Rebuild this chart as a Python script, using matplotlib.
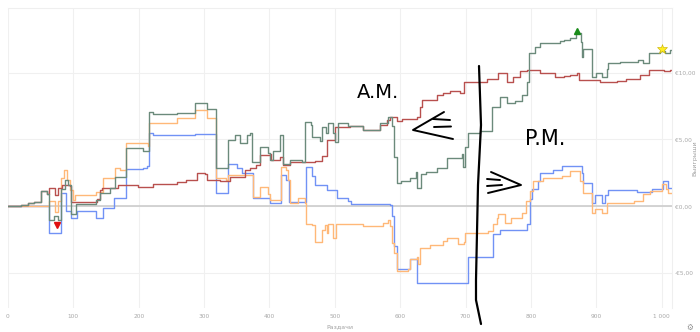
import matplotlib
matplotlib.use("Agg")
import matplotlib.pyplot as plt
from matplotlib.lines import Line2D

# cumulative winnings per hand (step points)
hands_end = 1015

green_x = [0, 10, 20, 30, 40, 51, 59, 63, 70, 76, 81, 87, 92, 96, 104, 134, 140, 156, 164, 180,
           207, 216, 222, 258, 286, 304, 318, 337, 347, 355, 365, 370, 374, 385, 398, 401, 406, 416, 421, 431,
           449, 454, 463, 465, 477, 480, 487, 490, 497, 500, 505, 520, 543, 569, 582, 587, 590, 595, 601, 615,
           624, 626, 631, 640, 656, 671, 694, 696, 699, 704, 722, 740, 753, 763, 776, 786, 794, 797, 806, 814,
           844, 850, 860, 869, 876, 878, 880, 893, 900, 908, 916, 918, 936, 964, 972, 980, 997, 1005, 1013]
green_y = [0, 0.05, 0.1, 0.25, 0.3, 1.14, 0.92, -1.0, -0.7, -1.0, 1.3, 2.0, 1.6, -0.55, 0.2, 0.47, 1.0, 1.37, 2.2, 4.34,
           4.1, 7.07, 6.9, 7.0, 7.7, 7.3, 2.84, 4.96, 5.3, 4.7, 5.3, 5.5, 3.34, 4.46, 4.0, 3.46, 4.1, 5.33, 3.2, 3.46,
           3.3, 6.33, 6.1, 5.2, 4.9, 5.9, 5.5, 6.2, 5.5, 4.8, 6.2, 6.0, 5.7, 6.2, 6.65, 6.0, 3.7, 1.72, 1.9, 2.1,
           2.6, 1.35, 2.4, 2.6, 2.84, 3.6, 3.9, 2.96, 4.46, 5.46, 5.6, 7.45, 8.2, 7.7, 7.9, 8.32, 9.3, 11.44, 11.94, 12.2,
           12.35, 12.4, 12.6, 12.94, 12.3, 11.2, 11.8, 9.7, 10.0, 9.7, 10.3, 10.7, 10.8, 10.94, 10.7, 11.44, 11.6, 11.5, 11.7]

red_x = [0, 10, 20, 30, 40, 51, 59, 63, 72, 77, 82, 95, 97, 136, 141, 144, 156, 169, 199, 222,
         258, 273, 289, 301, 304, 324, 340, 355, 362, 370, 380, 386, 401, 403, 416, 421, 431, 470, 480, 488,
         500, 523, 543, 569, 579, 584, 595, 602, 625, 630, 633, 656, 666, 676, 691, 697, 732, 750, 763, 773,
         783, 794, 814, 837, 850, 860, 870, 873, 906, 931, 946, 967, 980, 1003, 1013]
red_y = [0, 0.05, 0.1, 0.25, 0.3, 1.14, 0.92, 1.35, 0.85, 1.35, 1.6, 1.55, 0.35, 0.55, 1.2, 1.4, 1.35, 1.6, 1.48, 1.65,
         1.8, 1.97, 2.47, 2.4, 1.97, 1.9, 2.2, 2.2, 2.7, 2.9, 3.1, 3.84, 3.9, 3.5, 3.7, 3.1, 3.34, 3.4, 3.8, 4.96,
         5.96, 6.0, 5.7, 6.1, 6.45, 6.7, 6.4, 6.55, 6.7, 7.45, 7.95, 8.3, 8.45, 8.6, 8.5, 9.32, 9.55, 10.0, 9.3, 9.7,
         10.1, 10.2, 9.95, 9.7, 9.75, 9.85, 10.0, 9.45, 9.32, 9.4, 9.5, 9.8, 10.2, 10.1, 10.2]

blue_x = [0, 63, 81, 89, 97, 105, 134, 146, 162, 180.5, 207, 213, 216, 222, 286, 318, 336, 350, 358, 375,
          401, 418, 426, 430, 456, 465, 470, 488, 503, 520, 525, 584, 587, 590, 595, 615, 625, 703, 742, 752,
          794, 799, 801, 811, 814, 834, 847, 878, 880, 893, 898, 908, 913, 918, 962, 985, 1002, 1009]
blue_y = [0, -1.97, 1.0, -0.35, -0.85, -0.35, -0.85, -0.1, 0.6, 2.8, 2.9, 3.0, 5.46, 5.3, 5.4, 0.97, 3.2, 2.9, 2.47, 0.6,
          0.22, 2.34, 1.97, 0.35, 2.96, 2.3, 1.6, 1.2, 0.6, 0.4, 0.15, 0.1, -0.73, -2.97, -4.7, -3.96, -5.7, -3.77, -2.1, -1.77,
          -1.35, 0.52, 1.27, 1.9, 2.5, 2.75, 3.0, 2.5, 1.77, 0.27, 0.84, 0.27, 0.84, 1.22, 1.1, 1.3, 1.9, 1.4]

orange_x = [0, 63, 72, 77, 81, 85, 90, 95, 100, 103, 135, 146, 164, 171, 180.5, 207, 214, 216, 258, 286,
            304, 318, 334, 337, 375, 385, 398, 401, 418, 426, 429, 431, 444, 454, 456, 465, 470, 477, 480, 485,
            488, 490, 497, 502, 543, 566, 574, 582, 584, 587, 590, 595, 612, 615, 625, 627, 630, 646, 666, 671,
            686, 689, 697, 699, 727, 735, 742, 748, 750, 758, 760, 770, 786, 793, 798, 803, 819, 847, 860, 870,
            875, 880, 893, 898, 908, 916, 957, 972, 982, 1000, 1006, 1010]
orange_y = [0, 0.4, -0.4, 0.4, 2.1, 2.7, 2.0, 1.2, 0.47, 0.85, 1.1, 2.1, 2.84, 2.7, 4.7, 4.7, 4.5, 6.2, 6.6, 7.2,
            6.6, 2.1, 1.97, 2.34, 0.72, 1.47, 0.95, 0.47, 2.96, 2.7, 1.97, 0.22, 0.6, 0.22, -1.3, -1.4, -2.65, -2.65, -1.8, -1.4,
            -2.0, -1.3, -2.35, -1.3, -1.5, -1.5, -1.22, -1.02, -1.5, -2.77, -3.5, -4.8, -4.7, -3.96, -3.8, -4.34, -3.1, -2.9, -2.6, -2.4,
            -2.4, -2.84, -2.7, -1.97, -1.97, -1.85, -1.3, -0.9, -0.6, -0.6, -1.22, -0.85, -0.47, 0.4, 1.14, 1.9, 2.14, 2.3, 2.64, 2.64,
            1.9, 1.02, -0.47, -0.22, -0.5, 0.27, 0.4, 0.9, 1.14, 1.64, 1.3, 1.0]

# special hands
low_point = (75, -1.4)
high_point = (870, 13.1)
star_point = (1000, 11.8)

x_ticks = [0, 100, 200, 300, 400, 500, 600, 700, 800, 900, 1000]
x_tick_labels = ["0", "100", "200", "300", "400", "500", "600", "700", "800", "900", "1 000"]
y_ticks = [-5, 0, 5, 10]
y_tick_labels = ["-€5,00", "€0,00", "€5,00", "€10,00"]

W, H = 700, 332
fig = plt.figure(figsize=(W / 100, H / 100), dpi=100)
ax = fig.add_axes([8 / W, 1 - 307.7 / H, 664 / W, 299.7 / H])

ax.set_xlim(0, 1015.7)
ax.set_ylim(-7.58, 14.83)

ax.set_xticks(x_ticks)
ax.set_xticklabels(x_tick_labels)
ax.set_yticks(y_ticks)
ax.set_yticklabels(y_tick_labels)
ax.yaxis.tick_right()
ax.tick_params(length=0, labelsize=4.2, labelcolor="#a8a8a8")
ax.tick_params(axis="y", pad=2.2)
ax.tick_params(axis="x", pad=4.5)
ax.grid(True, color="#f0f0f0", lw=0.8)
ax.set_axisbelow(True)
for side in ["left", "bottom"]:
    ax.spines[side].set_visible(False)
for side in ["top", "right"]:
    ax.spines[side].set_color("#efefef")
    ax.spines[side].set_linewidth(0.8)

ax.axhline(0, color="#cccccc", lw=1.2, zorder=1)


def steps(xs, ys, color):
    ax.plot(list(xs) + [hands_end], list(ys) + [ys[-1]], drawstyle="steps-post",
            color=color, lw=1.0, zorder=2)


steps(blue_x, blue_y, "#7192f5")
steps(orange_x, orange_y, "#ffb878")
steps(red_x, red_y, "#b8504e")
steps(green_x, green_y, "#6b8a7b")

ax.plot(*low_point, marker="v", color="#e01010", ms=5, zorder=4)
ax.plot(*high_point, marker="^", color="#1a8c1a", ms=5, zorder=4)
ax.plot(*star_point, marker="*", color="#ffee22", mec="#c8b000", mew=0.4, ms=7, zorder=4)

ax.set_xlabel("Раздачи", fontsize=4.5, color="#a0a0a0", labelpad=4)
fig.text(695 / W, 1 - 158 / H, "Выигрыши", rotation=90, fontsize=4.5, color="#a0a0a0",
         ha="center", va="center")
fig.text(690 / W, 1 - 327 / H, "⚙", fontsize=5.5, color="#909090", ha="center", va="center")


# hand-drawn notes on top of the chart, in pixel positions of the figure
def stroke(points, lw=1.4):
    xs = [p[0] / W for p in points]
    ys = [1 - p[1] / H for p in points]
    fig.add_artist(Line2D(xs, ys, color="black", lw=lw, transform=fig.transFigure,
                          solid_capstyle="round", solid_joinstyle="round"))


stroke([(479, 66), (481, 125), (478, 185), (476, 280), (476, 300), (481, 324)], lw=1.6)
stroke([(444, 112), (413, 130), (453, 139)])
stroke([(433, 119), (450, 120)])
stroke([(434, 127), (451, 126.5)])
stroke([(491, 172), (521, 185), (488, 193)])
stroke([(487, 179), (500, 180)])
stroke([(487, 186), (502, 185)])

fig.text(378 / W, 1 - 93 / H, "A.M.", fontsize=14, color="black", ha="center", va="center")
fig.text(545 / W, 1 - 139 / H, "P.M.", fontsize=15, color="black", ha="center", va="center")

fig.savefig("out.png", dpi=100)
